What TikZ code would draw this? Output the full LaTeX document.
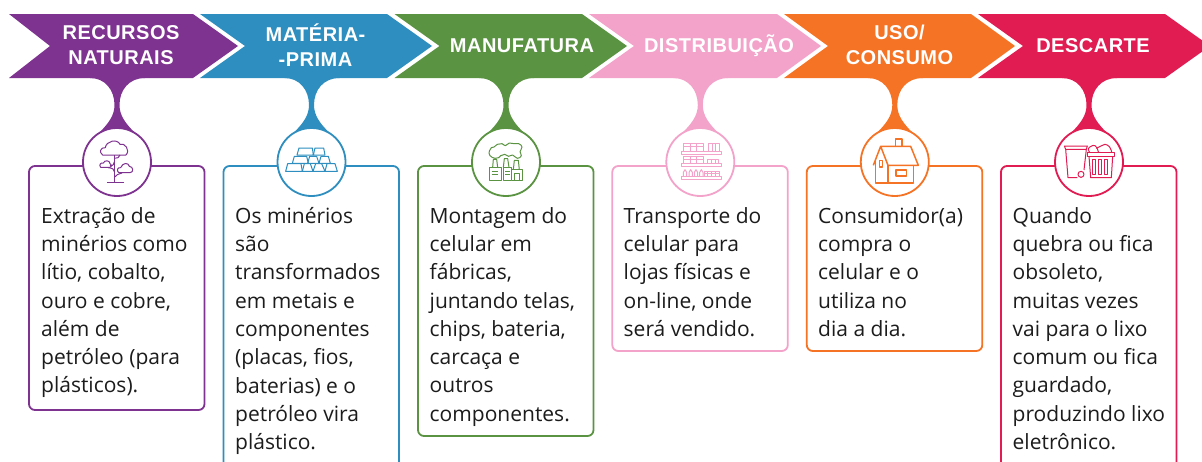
\documentclass[tikz,border=0pt]{standalone}
\usepackage{fontspec}
\setmainfont{Open Sans}
\newfontfamily\headfont[LetterSpace=2.5]{Liberation Sans}
\definecolor{cpurple}{HTML}{7F3391}
\definecolor{cblue}{HTML}{2D8EBF}
\definecolor{cgreen}{HTML}{5A9442}
\definecolor{cpink}{HTML}{F3A3C9}
\definecolor{corange}{HTML}{F57325}
\definecolor{cred}{HTML}{E01C52}
\definecolor{ctext}{HTML}{1C1C1C}
\tikzset{
  headlabel/.style={text=white,align=center,inner sep=0pt,font=\headfont\bfseries\fontsize{20}{25}\selectfont},
  bodylabel/.style={text=ctext,align=left,inner sep=0pt,anchor=north west,font=\fontsize{21}{28.3}\selectfont},
  cardbox/.style={draw,line width=1.8pt,rounded corners=6pt,fill=white},
  iconring/.style={draw,line width=1.8pt,fill=white},
  iconline/.style={line width=1pt,line join=round}
}
% #1 name, #2 circle centre x, #3 box bottom, #4 colour
\newcommand{\stepcard}[4]{%
  \fill[#4] (#2-27,78) .. controls (#2-12,78) and (#2-2.5,90) .. (#2-2.5,105)
     .. controls (#2-2.5,116) and (#2-9,124) .. (#2-19,134) -- (#2+19,134)
     .. controls (#2+9,124) and (#2+2.5,116) .. (#2+2.5,105)
     .. controls (#2+2.5,90) and (#2+12,78) .. (#2+28,78) -- cycle;
  \path[cardbox,draw=#4] (#2-88,166) rectangle (#2+87.5,#3);
  \path[iconring,draw=#4] (#2,162) circle[radius=34];
}
\begin{document}
\begin{tikzpicture}[x=1pt,y=-1pt]
\useasboundingbox (0,0) rectangle (1202,461);
\clip (0,0) rectangle (1202,461);
% chevrons
\fill[cpurple] (9,14) -- (193,14) -- (238,46) -- (193,78) -- (9,78) -- (50,46) -- cycle;
\fill[cblue]   (200,14) -- (387,14) -- (432,46) -- (387,78) -- (200,78) -- (245,46) -- cycle;
\fill[cgreen]  (394.5,14) -- (582,14) -- (627,46) -- (582,78) -- (394.5,78) -- (439.5,46) -- cycle;
\fill[cpink]   (589,14) -- (777,14) -- (821,46) -- (777,78) -- (589,78) -- (634,46) -- cycle;
\fill[corange] (784,14) -- (971,14) -- (1015,46) -- (971,78) -- (784,78) -- (828,46) -- cycle;
\fill[cred]    (978,14) -- (1165,14) -- (1210,46) -- (1165,78) -- (978,78) -- (1023,46) -- cycle;
% cards
\stepcard{a}{117}{410}{cpurple}
\stepcard{b}{311.5}{480}{cblue}
\stepcard{c}{506}{436}{cgreen}
\stepcard{d}{700.3}{351}{cpink}
\stepcard{e}{894.8}{351}{corange}
\stepcard{f}{1089}{480}{cred}
% headers
\node[headlabel] (h1) at (121,45) {RECURSOS\\NATURAIS};
\node[headlabel] (h2) at (315.5,45) {MATÉRIA-\\-PRIMA};
\node[headlabel] (h3) at (522,46) {MANUFATURA};
\node[headlabel] (h4) at (719,46) {DISTRIBUIÇÃO};
\node[headlabel] (h5) at (899.5,45) {USO/\\CONSUMO};
\node[headlabel] (h6) at (1093,46) {DESCARTE};
% body
\node[bodylabel] (t1) at (41,207) {Extração de\\minérios como\\lítio, cobalto,\\ouro e cobre,\\além de\\petróleo (para\\plásticos).};
\node[bodylabel] (t2) at (235,207) {Os minérios\\são\\transformados\\em metais e\\componentes\\(placas, fios,\\baterias) e o\\petróleo vira\\plástico.};
\node[bodylabel] (t3) at (429.5,207) {Montagem do\\celular em\\fábricas,\\juntando telas,\\chips, bateria,\\carcaça e\\outros\\componentes.};
\node[bodylabel] (t4) at (623.5,207) {Transporte do\\celular para\\lojas físicas e\\on-line, onde\\será vendido.};
\node[bodylabel] (t5) at (818,207) {Consumidor(a)\\compra o\\celular e o\\utiliza no\\dia a dia.};
\node[bodylabel] (t6) at (1012.5,207) {Quando\\quebra ou fica\\obsoleto,\\muitas vezes\\vai para o lixo\\comum ou fica\\guardado,\\produzindo lixo\\eletrônico.};
% icon 1: tree (zoom coordinates)
\begin{scope}[shift={(80,125)},x=0.3333pt,y=-0.3333pt,iconline,draw=cpurple]
  \draw (68,90) .. controls (56,82) and (62,66) .. (76,68) .. controls (78,48) and (112,40) .. (120,58)
     .. controls (134,52) and (152,76) .. (138,90) -- cycle;
  \draw (62,127) .. controls (56,120) and (62,112) .. (70,114) .. controls (74,104) and (90,106) .. (90,116)
     .. controls (98,118) and (96,127) .. (90,127) -- cycle;
  \draw (116,143) .. controls (108,136) and (114,126) .. (122,128) .. controls (128,112) and (146,112) .. (148,124)
     .. controls (160,124) and (162,143) .. (150,143) -- cycle;
  \draw (103,90) -- (103,171) (81,172) -- (131,172);
  \draw (103,110) .. controls (103,118) and (100,122) .. (90,122);
  \draw (103,157) .. controls (108,150) and (116,146) .. (126,144);
  \draw (103,140) .. controls (103,132) and (98,130) .. (85,128);
  \draw (103,100) .. controls (112,100) and (118,98) .. (120,90);
\end{scope}
% icon 2: gold bars
\begin{scope}[shift={(275,125)},x=0.3333pt,y=-0.3333pt,iconline,draw=cblue]
  \draw (72,69) -- (112,69) -- (115,90) -- (66,90) -- cycle;
  \draw (120,69) -- (146,69) -- (150,90) -- (115,90) -- cycle;
  \draw (58,94) -- (95,94) -- (100,115) -- (52,115) -- cycle;
  \draw (104,94) -- (125,94) -- (132,115) -- (98,115) -- cycle;
  \draw (138,94) -- (160,94) -- (166,115) -- (132,115) -- cycle;
  \draw (38,116) -- (78,116) -- (82,139) -- (32,139) -- cycle;
  \draw (88,116) -- (106,116) -- (114,139) -- (82,139) -- cycle;
  \draw (122,116) -- (140,116) -- (150,139) -- (114,139) -- cycle;
  \draw (156,116) -- (180,116) -- (187,139) -- (150,139) -- cycle;
\end{scope}
% icon 3: factory
\begin{scope}[shift={(470,125)},x=0.3333pt,y=-0.3333pt,iconline,draw=cgreen]
  \draw (58,127) -- (95,127) -- (95,166) -- (58,166) -- cycle;
  \draw (99,127) -- (125,127) -- (125,166) -- (99,166) -- cycle;
  \draw (125,134) -- (156,134) -- (156,166) -- (125,166);
  \draw (68,127) -- (70,103) -- (80,103) -- (83,127);
  \draw (100,127) -- (103,101) -- (113,101) -- (117,127);
  \draw (130,134) -- (133,106) -- (145,106) -- (148,134);
  \draw (65,140) -- (85,140) (65,150) -- (85,150);
  \draw (105,140) -- (120,140) (105,150) -- (120,150);
  \draw (134,166) -- (134,146) -- (148,146) -- (148,166);
  \draw plot[smooth cycle,tension=0.8] coordinates {(75,100) (60,92) (58,78) (64,68) (72,66) (82,58) (96,56) (106,62) (118,54) (132,56) (146,56) (156,66) (150,80) (154,92) (142,100) (128,90) (116,94) (104,88) (92,92) (86,98)};
\end{scope}
% icon 4: shelves
\begin{scope}[shift={(665,125)},x=0.3333pt,y=-0.3333pt,iconline,draw=cpink]
  \draw (48,78) rectangle (168,87);
  \draw (48,116) rectangle (168,125);
  \draw (48,154) rectangle (168,163);
  \draw (55,78) -- (55,55) -- (115,55) -- (115,78) (75,55) -- (75,78) (95,55) -- (95,78) (55,65) -- (115,65);
  \draw (130,78) -- (130,55) -- (162,55) -- (162,78) (141,55) -- (141,78) (152,55) -- (152,78);
  \draw (55,116) -- (55,95) -- (115,95) -- (115,116) (75,95) -- (75,116) (95,95) -- (95,116) (55,103) -- (115,103);
  \draw (128,116) -- (128,103) -- (160,103) -- (160,116) (139,103) -- (139,116) (150,103) -- (150,116);
  \draw (55,154) -- (55,142) -- (60,134) -- (65,142) -- (65,154);
  \draw (72,154) -- (72,142) -- (77,134) -- (82,142) -- (82,154);
  \draw (88,154) -- (88,142) -- (93,134) -- (98,142) -- (98,154);
  \draw (104,154) -- (104,142) -- (109,134) -- (114,142) -- (114,154);
  \draw (118,154) -- (118,141) -- (162,141) -- (162,154) (118,147) -- (162,147) (128,141) -- (128,154) (140,141) -- (140,154) (151,141) -- (151,154);
\end{scope}
% icon 5: house
\begin{scope}[shift={(860,125)},x=0.3333pt,y=-0.3333pt,line width=1.5pt,line join=round,draw=corange]
  \draw (106,62) -- (106,42) -- (126,42) -- (126,62);
  \draw (40,121) -- (62,64) -- (152,64) -- (175,121) -- (84,121) -- (62,64);
  \draw (47,103) -- (47,174) -- (161,174) -- (161,121);
  \draw (84,121) -- (84,174);
  \draw (58,106) rectangle (68,126);
  \draw (108,135) rectangle (140,153);
\end{scope}
% icon 6: bins
\begin{scope}[shift={(1053,125)},x=0.3333pt,y=-0.3333pt,iconline,draw=cred]
  \draw (34,63) -- (38,73) -- (100,73) -- (103,63) -- cycle;
  \draw (38,73) -- (45,158) -- (73,158);
  \draw (100,73) -- (93,135);
  \draw (84,148) circle[radius=9];
  \draw (103,82) rectangle (183,94);
  \draw (108,94) -- (113,158) -- (175,158) -- (179,94);
  \draw (118,102) rectangle (127,148);
  \draw (137,102) rectangle (146,148);
  \draw (155,102) rectangle (164,148);
  \draw plot[smooth,tension=0.8] coordinates {(110,82) (106,72) (114,64) (126,62) (134,74) (136,82)};
  \draw plot[smooth,tension=0.8] coordinates {(130,70) (146,62) (156,58) (170,66) (176,82)};
\end{scope}
\end{tikzpicture}
\end{document}
